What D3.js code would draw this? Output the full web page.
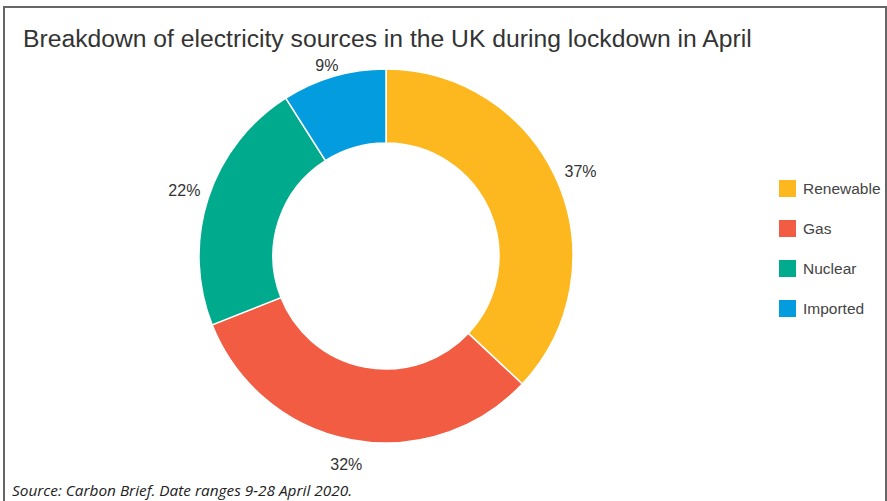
<!DOCTYPE html>
<html>
<head>
<meta charset="utf-8">
<script src="https://cdn.jsdelivr.net/npm/d3@7"></script>
<style>
  body { margin: 0; background: #fff; }
  svg { display: block; }
</style>
</head>
<body>
<div id="chart"></div>
<script>
'use strict';

var sources = ['Renewable', 'Gas', 'Nuclear', 'Imported'];
var shares = [37, 32, 22, 9];
var colours = ['#FDB71F', '#F25C43', '#00AA8C', '#039DDF'];

var chart = {};
chart.w = 887;
chart.h = 501;
chart.cx = 386;
chart.cy = 256;
chart.outer = 187;
chart.inner = 113;
chart.labelR = 212;
chart.labelTop = 65; // labels are kept below the title

var svg = d3.select('#chart').append('svg')
    .attr('width', chart.w)
    .attr('height', chart.h);

// frame (open at the bottom)
svg.append('path')
    .attr('d', 'M4,' + chart.h + 'V7H886V' + chart.h)
    .style('fill', 'none')
    .style('stroke', '#666')
    .style('stroke-width', 2);

svg.append('text')
    .attr('x', 23)
    .attr('y', 47)
    .style('font-family', 'Liberation Sans, Arial, sans-serif')
    .style('font-size', '24.7px')
    .style('fill', '#333')
    .text('Breakdown of electricity sources in the UK during lockdown in April');

var colour = d3.scaleOrdinal().domain(sources).range(colours);

var pie = d3.pie().sort(null).value(function(d) { return d.value; });
var data = sources.map(function(s, i) { return {name: s, value: shares[i]}; });
var arcs = pie(data);

var arc = d3.arc().innerRadius(chart.inner).outerRadius(chart.outer);
var labelArc = d3.arc().innerRadius(chart.labelR).outerRadius(chart.labelR);

var g = svg.append('g')
    .attr('transform', 'translate(' + chart.cx + ',' + chart.cy + ')');

g.selectAll('path')
    .data(arcs)
    .enter()
    .append('path')
    .attr('d', arc)
    .style('fill', function(d) { return colour(d.data.name); })
    .style('stroke', '#fff')
    .style('stroke-width', 1.5);

g.selectAll('text')
    .data(arcs)
    .enter()
    .append('text')
    .attr('transform', function(d) {
        var c = labelArc.centroid(d);
        var minY = chart.labelTop - chart.cy;
        if (c[1] < minY) c[1] = minY;
        return 'translate(' + c + ')';
    })
    .attr('text-anchor', 'middle')
    .attr('dy', '0.35em')
    .style('font-family', 'Liberation Sans, Arial, sans-serif')
    .style('font-size', '16px')
    .style('fill', '#333')
    .text(function(d) { return d.data.value + '%'; });

var legend = svg.append('g')
    .attr('transform', 'translate(779,180)');

var item = legend.selectAll('g')
    .data(sources)
    .enter()
    .append('g')
    .attr('transform', function(d, i) { return 'translate(0,' + (i * 40) + ')'; });

item.append('rect')
    .attr('width', 17)
    .attr('height', 17)
    .style('fill', function(d) { return colour(d); });

item.append('text')
    .attr('x', 24)
    .attr('y', 8.5)
    .attr('dy', '0.35em')
    .style('font-family', 'Liberation Sans, Arial, sans-serif')
    .style('font-size', '15.5px')
    .style('fill', '#444')
    .text(function(d) { return d; });

svg.append('text')
    .attr('x', 12)
    .attr('y', 496)
    .attr('textLength', 340)
    .attr('lengthAdjust', 'spacingAndGlyphs')
    .style('font-family', 'Open Sans, sans-serif')
    .style('font-style', 'italic')
    .style('font-size', '14.5px')
    .style('fill', '#222')
    .text('Source: Carbon Brief. Date ranges 9-28 April 2020.');
</script>
</body>
</html>
